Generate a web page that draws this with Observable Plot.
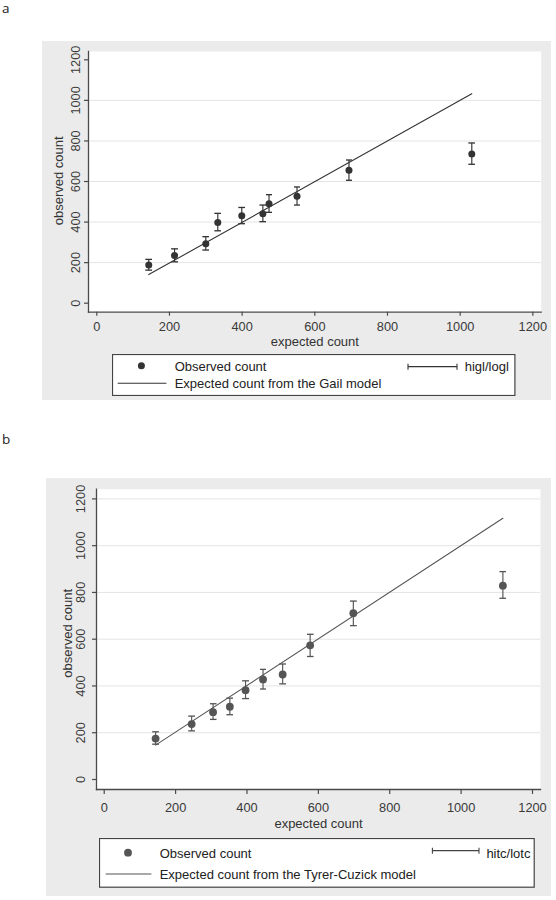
<!DOCTYPE html>
<html>
<head>
<meta charset="utf-8">
<script src="https://cdn.jsdelivr.net/npm/d3@7"></script>
<script src="https://cdn.jsdelivr.net/npm/@observablehq/plot@0.6"></script>
<style>
  html, body { margin: 0; padding: 0; background: #fff; }
  #root { position: relative; width: 556px; height: 900px; overflow: hidden; font-family: "Liberation Sans", Arial, sans-serif; }
  .lbl { position: absolute; font-family: "Open Sans", "DejaVu Sans", sans-serif; font-size: 13.5px; color: #222; line-height: 16px; }
  .bg { position: absolute; background: #ebebeb; }
  .abs { position: absolute; }
</style>
</head>
<body>
<div id="root"></div>
<script>
// ---------- data ----------
const xTicks = [0, 200, 400, 600, 800, 1000, 1200];
const yTicks = [0, 200, 400, 600, 800, 1000, 1200];
const gridA = [200, 400, 600, 800, 1000];
const gridB = [200, 400, 600, 800, 1000, 1200];
const xTitle = "expected count";
const yTitle = "observed count";

// Panel a: Gail model
const expA = [143, 214, 300, 333, 399, 457, 474, 551, 694, 1032];
const obsA = [188, 235, 293, 398, 431, 441, 490, 527, 655, 736];
const loA  = [163, 204, 262, 357, 392, 402, 448, 484, 606, 685];
const hiA  = [216, 268, 328, 443, 472, 484, 535, 573, 706, 790];
const lineAx = [143, 1032];
const lineAy = [141, 1033];
const legendA = ["Observed count", "Expected count from the Gail model", "higl/logl"];

// Panel b: Tyrer-Cuzick model
const expB = [144, 245, 305, 352, 396, 445, 500, 577, 698, 1117];
const obsB = [175, 237, 288, 311, 382, 428, 449, 574, 711, 829];
const loB  = [151, 208, 257, 277, 346, 387, 409, 526, 658, 775];
const hiB  = [204, 271, 324, 348, 422, 471, 494, 621, 763, 889];
const lineBx = [144, 1117];
const lineBy = [147, 1117];
const legendB = ["Observed count", "Expected count from the Tyrer-Cuzick model", "hitc/lotc"];

// ---------- drawing ----------
const root = document.getElementById("root");
const fmt = d3.format("d");

function addLabel(txt, left, baseline) {
  const d = document.createElement("div");
  d.className = "lbl";
  d.textContent = txt;
  d.style.left = left + "px";
  d.style.top = (baseline - 12) + "px";
  root.appendChild(d);
}

function addBg(left, top, w, h) {
  const d = document.createElement("div");
  d.className = "bg";
  Object.assign(d.style, {left: left + "px", top: top + "px", width: w + "px", height: h + "px"});
  root.appendChild(d);
}

function makePanel(c) {
  const pts = c.ex.map((e, i) => ({e, o: c.ob[i], lo: c.lo[i], hi: c.hi[i]}));
  const ln = c.lx.map((x, i) => ({x, y: c.ly[i]}));
  const svg = Plot.plot({
    width: c.w, height: c.h,
    marginLeft: c.ml, marginTop: c.mt, marginRight: c.mr, marginBottom: c.mb,
    style: {background: "transparent", fontFamily: "'Liberation Sans', Arial, sans-serif", fontSize: "12.8px", color: "#3a3a3a", overflow: "visible"},
    x: {domain: c.xd, label: null},
    y: {domain: c.yd, label: null},
    marks: [
      Plot.frame({fill: "white", stroke: null}),
      Plot.ruleY(c.grid, {stroke: "#e4e4e4", strokeWidth: 1}),
      Plot.line(ln, {x: "x", y: "y", stroke: c.lineColor, strokeWidth: 1.1}),
      Plot.link(pts, {x1: "e", x2: "e", y1: "lo", y2: "hi", stroke: c.barColor, strokeWidth: 1.15, markerStart: "tick", markerEnd: "tick"}),
      Plot.dot(pts, {x: "e", y: "o", r: c.r, fill: c.dotColor, stroke: null}),
      Plot.frame({anchor: "left", stroke: "#4a4a4a", strokeWidth: 1.3}),
      Plot.frame({anchor: "bottom", stroke: "#4a4a4a", strokeWidth: 1.3}),
      Plot.axisX({ticks: xTicks, tickFormat: fmt, tickSize: c.tsx, tickPadding: c.padx, stroke: "#4a4a4a", strokeWidth: 1.2, fill: "#3a3a3a", label: null}),
      Plot.axisY({ticks: yTicks, tickFormat: fmt, tickSize: 4, tickPadding: c.pady, tickRotate: -90, textAnchor: "middle", lineAnchor: "middle", stroke: "#4a4a4a", strokeWidth: 1.2, fill: "#3a3a3a", label: null}),
      Plot.text([xTitle], {text: d => d, frameAnchor: "bottom", dy: c.xtdy, lineAnchor: "bottom", fontSize: 13, fill: "#333"}),
      Plot.text([yTitle], {text: d => d, frameAnchor: "left", dx: c.ytdx, dy: c.ytdy, rotate: -90, textAnchor: "middle", lineAnchor: "middle", fontSize: 13, fill: "#333"})
    ]
  });
  svg.classList.add("abs");
  svg.style.left = c.left + "px";
  svg.style.top = c.top + "px";
  root.appendChild(svg);
}

function makeLegend(c) {
  const svg = d3.create("svg")
    .attr("width", c.w).attr("height", c.h)
    .attr("class", "abs")
    .style("left", c.left + "px").style("top", c.top + "px")
    .style("font-family", "'Liberation Sans', Arial, sans-serif")
    .style("font-size", "13px");
  svg.append("rect").attr("x", 0.5).attr("y", 0.5).attr("width", c.w - 1).attr("height", c.h - 1)
    .attr("fill", "white").attr("stroke", "#444").attr("stroke-width", 1.2);
  svg.append("circle").attr("cx", c.dot[0]).attr("cy", c.dot[1]).attr("r", c.r).attr("fill", c.dotColor);
  svg.append("text").attr("x", c.tx).attr("y", c.b1).attr("fill", "#222").text(c.labels[0]);
  svg.append("line").attr("x1", c.ln[0]).attr("x2", c.ln[1]).attr("y1", c.ln[2]).attr("y2", c.ln[2])
    .attr("stroke", c.lineColor).attr("stroke-width", 1.1);
  svg.append("text").attr("x", c.tx).attr("y", c.b2).attr("fill", "#222").text(c.labels[1]);
  const eb = c.eb;
  svg.append("line").attr("x1", eb[0]).attr("x2", eb[1]).attr("y1", eb[2]).attr("y2", eb[2]).attr("stroke", c.barColor).attr("stroke-width", 1.3);
  svg.append("line").attr("x1", eb[0]).attr("x2", eb[0]).attr("y1", eb[2] - 3).attr("y2", eb[2] + 3).attr("stroke", c.barColor).attr("stroke-width", 1.1);
  svg.append("line").attr("x1", eb[1]).attr("x2", eb[1]).attr("y1", eb[2] - 3).attr("y2", eb[2] + 3).attr("stroke", c.barColor).attr("stroke-width", 1.1);
  svg.append("text").attr("x", c.ex).attr("y", c.b1).attr("fill", "#222").text(c.labels[2]);
  root.appendChild(svg.node());
}

// Panel a
addLabel("a", 2, 12);
addBg(42, 41, 509, 359);
makePanel({
  ex: expA, ob: obsA, lo: loA, hi: hiA, lx: lineAx, ly: lineAy, grid: gridA,
  left: 42, top: 41, w: 509, h: 310, ml: 46, mt: 10, mr: 10.3, mb: 39.3,
  xd: [-22.8, 1223], yd: [-44.4, 1241],
  tsx: 4, padx: 5.9, pady: 8.5, xtdy: 34, ytdx: -29.4, ytdy: -1,
  r: 3.5, dotColor: "#333", barColor: "#333", lineColor: "#333"
});
makeLegend({
  left: 112.3, top: 354, w: 403.4, h: 42, labels: legendA,
  dot: [29.4, 11.7], r: 3.5, dotColor: "#333", tx: 62.7, b1: 17, b2: 34,
  ln: [5.7, 54.4, 29.3], lineColor: "#333", eb: [296, 345, 12.7], barColor: "#333", ex: 352.7
});

// Panel b
addLabel("b", 2, 443);
addBg(46, 478.3, 505, 417.7);
makePanel({
  ex: expB, ob: obsB, lo: loB, hi: hiB, lx: lineBx, ly: lineBy, grid: gridB,
  left: 46, top: 478.3, w: 505, h: 355, ml: 50, mt: 10.7, mr: 11, mb: 44,
  xd: [-21.6, 1222.4], yd: [-42.8, 1241.5],
  tsx: 5, padx: 8.6, pady: 11.2, xtdy: 38.5, ytdx: -28.7, ytdy: -6,
  r: 3.9, dotColor: "#555", barColor: "#555", lineColor: "#555"
});
makeLegend({
  left: 99.3, top: 838, w: 435.7, h: 49.7, labels: legendB,
  dot: [29, 14.7], r: 3.9, dotColor: "#555", tx: 60.7, b1: 20.3, b2: 41.3,
  ln: [6.7, 52.4, 36], lineColor: "#555", eb: [333.4, 380, 12.7], barColor: "#444", ex: 387.4
});
</script>
</body>
</html>
